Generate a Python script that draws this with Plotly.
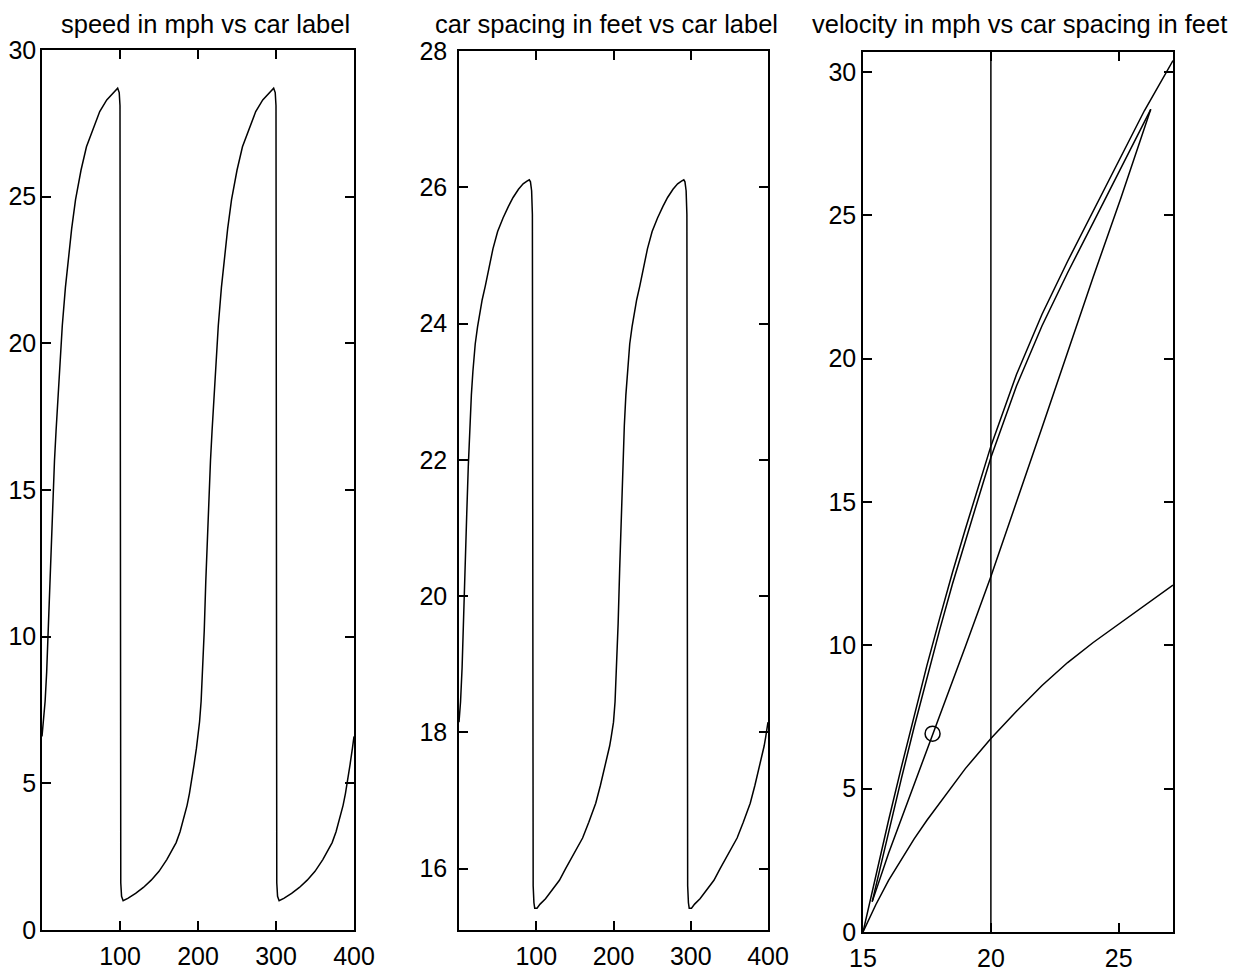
import plotly.graph_objects as go

# ---------------- data ----------------
# Panel 1: speed (mph) vs car label
car_speed = [0, 2, 4, 6, 8, 10, 12, 14, 16, 18, 20, 23, 26, 30, 34, 38, 43, 50, 57, 65, 74, 83, 91, 97, 99, 100,
             101, 102, 104, 110, 120, 130, 140, 150, 160, 167, 172, 177, 182, 186, 189, 192, 195, 198,
             200, 202, 204, 206, 208, 210, 212, 214, 216, 218, 220, 223, 226, 230, 234, 238, 243, 250, 257, 265, 274, 283, 291, 297, 299, 300,
             301, 302, 304, 310, 320, 330, 340, 350, 360, 367, 372, 377, 382, 386, 389, 392, 395, 398, 400]
speed_mph = [6.6, 7.1, 7.8, 8.8, 10.2, 11.9, 13.5, 14.9, 16.0, 17.0, 18.0, 19.4, 20.6, 21.9, 23.0, 23.9, 24.9, 25.9, 26.7, 27.3, 27.9, 28.3, 28.55, 28.7, 28.55, 28.1,
             1.6, 1.15, 1.0, 1.08, 1.25, 1.45, 1.7, 2.0, 2.4, 2.72, 2.98, 3.35, 3.8, 4.25, 4.65, 5.1, 5.65, 6.2,
             6.6, 7.1, 7.8, 8.8, 10.2, 11.9, 13.5, 14.9, 16.0, 17.0, 18.0, 19.4, 20.6, 21.9, 23.0, 23.9, 24.9, 25.9, 26.7, 27.3, 27.9, 28.3, 28.55, 28.7, 28.55, 28.1,
             1.6, 1.15, 1.0, 1.08, 1.25, 1.45, 1.7, 2.0, 2.4, 2.72, 2.98, 3.35, 3.8, 4.25, 4.65, 5.1, 5.65, 6.2, 6.6]

# Panel 2: car spacing (feet) vs car label
car_spacing = [0, 2, 4, 6, 8, 10, 12, 14, 16, 18, 21, 24, 27, 30, 34, 39, 44, 50, 57, 64, 70, 77, 83, 88, 91, 92.5, 94, 95,
               96, 97, 98, 101, 105, 112, 120, 130, 138, 148, 160, 168, 177, 183, 188, 192, 195, 197, 199,
               200, 202, 204, 206, 208, 210, 212, 214, 216, 218, 221, 224, 227, 230, 234, 239, 244, 250, 257, 264, 270, 277, 283, 288, 291, 292.5, 294, 295,
               296, 297, 298, 301, 305, 312, 320, 330, 338, 348, 360, 368, 377, 383, 388, 392, 395, 397, 399, 400]
spacing_ft = [18.15, 18.45, 18.95, 19.6, 20.4, 21.2, 21.9, 22.5, 22.95, 23.3, 23.7, 23.95, 24.15, 24.35, 24.55, 24.85, 25.1, 25.35, 25.55, 25.72, 25.85, 25.97, 26.05, 26.09, 26.11, 26.08, 25.95, 25.6,
              15.75, 15.5, 15.42, 15.42, 15.48, 15.56, 15.68, 15.83, 16.0, 16.2, 16.45, 16.68, 16.96, 17.22, 17.45, 17.64, 17.8, 17.93, 18.07,
              18.15, 18.45, 18.95, 19.6, 20.4, 21.2, 21.9, 22.5, 22.95, 23.3, 23.7, 23.95, 24.15, 24.35, 24.55, 24.85, 25.1, 25.35, 25.55, 25.72, 25.85, 25.97, 26.05, 26.09, 26.11, 26.08, 25.95, 25.6,
              15.75, 15.5, 15.42, 15.42, 15.48, 15.56, 15.68, 15.83, 16.0, 16.2, 16.45, 16.68, 16.96, 17.22, 17.45, 17.64, 17.8, 17.93, 18.07, 18.15]

# Panel 3: velocity (mph) vs car spacing (feet)
outer_s = [15, 15.5, 16, 16.5, 17, 17.5, 18, 18.5, 19, 19.5, 20, 21, 22, 23, 24, 25, 26, 27.12]
outer_v = [0, 2.0, 3.9, 5.75, 7.55, 9.3, 10.95, 12.55, 14.05, 15.5, 16.95, 19.45, 21.55, 23.4, 25.15, 26.95, 28.65, 30.4]

loop_up_s = [15.36, 16, 16.5, 17, 17.5, 18, 18.5, 19, 19.5, 20, 21, 22, 23, 24, 25, 26.25]
loop_up_v = [1.06, 3.5, 5.35, 7.15, 8.9, 10.55, 12.15, 13.65, 15.1, 16.55, 19.05, 21.15, 23.0, 24.75, 26.5, 28.7]

loop_down_s = [26.25, 25.08, 24, 23, 22, 21, 20, 19, 18, 17.7, 17, 16, 15.36]
loop_down_v = [28.7, 25.6, 22.85, 20.2, 17.6, 15.0, 12.4, 9.95, 7.55, 6.85, 5.2, 2.75, 1.06]

lower_s = [15, 15.25, 15.5, 16, 16.5, 17, 17.5, 18, 18.5, 19, 20, 21, 22, 23, 24, 25, 26, 27.12]
lower_v = [0, 0.5, 0.95, 1.8, 2.55, 3.25, 3.9, 4.5, 5.1, 5.7, 6.75, 7.7, 8.6, 9.4, 10.1, 10.75, 11.4, 12.1]

ref_spacing = [20, 20]
ref_velocity = [0, 30.7]

marker_s = [17.72]
marker_v = [6.92]

titles = ["speed in mph vs car label",
          "car spacing in feet vs car label",
          "velocity in mph vs car spacing in feet"]

# ---------------- figure ----------------
W, H = 1235, 971
FONT = "Liberation Sans, Arial, Helvetica, sans-serif"
LINE = dict(color="black", width=1.5)

fig = go.Figure()
fig.add_trace(go.Scatter(x=car_speed, y=speed_mph, mode="lines", line=LINE, xaxis="x", yaxis="y"))
fig.add_trace(go.Scatter(x=car_spacing, y=spacing_ft, mode="lines", line=LINE, xaxis="x2", yaxis="y2"))
for xs, ys in [(outer_s, outer_v), (loop_up_s, loop_up_v), (loop_down_s, loop_down_v),
               (lower_s, lower_v), (ref_spacing, ref_velocity)]:
    fig.add_trace(go.Scatter(x=xs, y=ys, mode="lines", line=LINE, xaxis="x3", yaxis="y3"))
fig.add_trace(go.Scatter(x=marker_s, y=marker_v, mode="markers",
                         marker=dict(symbol="circle-open", size=15, color="black", line=dict(width=1.5)),
                         xaxis="x3", yaxis="y3"))


def px_dom(a, b, total):
    return [a / total, b / total]


def ydom(top, bottom):
    return [1 - bottom / H, 1 - top / H]


axis_common = dict(showline=True, linecolor="black", linewidth=1.6, mirror="allticks",
                   ticks="inside", ticklen=9, tickwidth=1.5, tickcolor="black",
                   showgrid=False, zeroline=False, automargin=False,
                   tickfont=dict(family=FONT, size=25, color="black"))

fig.update_layout(
    width=W, height=H, margin=dict(l=0, r=0, t=0, b=0),
    paper_bgcolor="white", plot_bgcolor="white", showlegend=False,
    xaxis=dict(domain=px_dom(42, 354, W), range=[0, 400], tickvals=[100, 200, 300, 400],
               anchor="y", ticklabelstandoff=3, **axis_common),
    yaxis=dict(domain=ydom(50, 930), range=[0, 30], tickvals=[0, 5, 10, 15, 20, 25, 30],
               anchor="x", ticklabelstandoff=-1, **axis_common),
    xaxis2=dict(domain=px_dom(459, 768, W), range=[0, 400], tickvals=[100, 200, 300, 400],
                anchor="y2", ticklabelstandoff=3, **axis_common),
    yaxis2=dict(domain=ydom(51, 930), range=[15.1, 28], tickvals=[16, 18, 20, 22, 24, 26, 28],
                anchor="x2", ticklabelstandoff=5, **axis_common),
    xaxis3=dict(domain=px_dom(863, 1173, W), range=[15, 27.12], tickvals=[15, 20, 25],
                anchor="y3", ticklabelstandoff=3, **axis_common),
    yaxis3=dict(domain=ydom(52, 932), range=[0, 30.7], tickvals=[0, 5, 10, 15, 20, 25, 30],
                anchor="x3", ticklabelstandoff=0, **axis_common),
)

title_x = [205, 606, 1019]
for t, cx in zip(titles, title_x):
    fig.add_annotation(text=t, x=cx / W, y=1 - 24 / H, xref="paper", yref="paper",
                       xanchor="center", yanchor="middle", showarrow=False,
                       font=dict(family=FONT, size=25.5, color="black"))

fig.write_html("out.html",
               config={"displayModeBar": False},
               post_script="document.body.style.margin='0px';document.body.style.padding='0px';"
                           "document.body.style.overflow='hidden';")
